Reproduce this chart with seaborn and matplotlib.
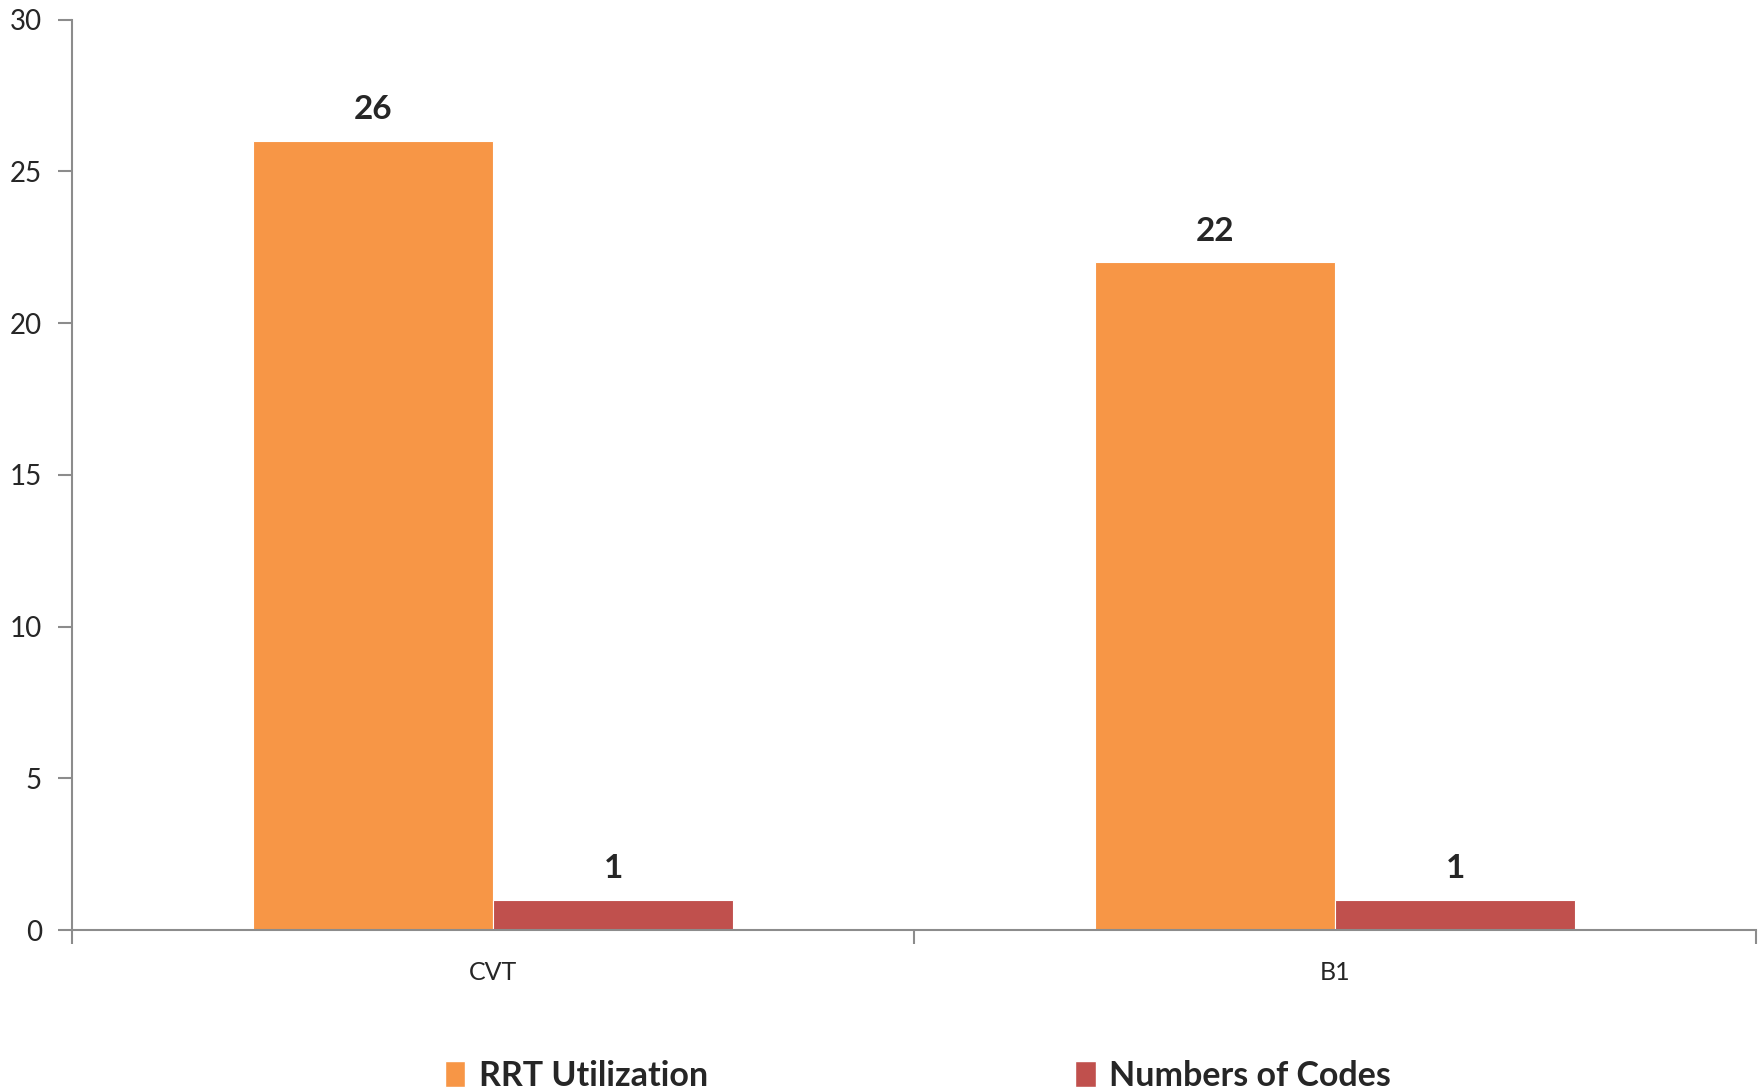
import pandas as pd
import seaborn as sns
import matplotlib.pyplot as plt
from matplotlib.patches import Patch

# data
categories = ['CVT', 'B1']
series = ['RRT Utilization', 'Numbers of Codes']
rrt_utilization = [26, 22]
numbers_of_codes = [1, 1]
colors = ['#F79646', '#C0504D']

df = pd.DataFrame({
    'Category': categories * 2,
    'Series': [series[0]] * 2 + [series[1]] * 2,
    'Value': rrt_utilization + numbers_of_codes,
})

sns.set_style('white')
plt.rcParams['font.family'] = ['Lato', 'DejaVu Sans']

fig, ax = plt.subplots(figsize=(17.65, 10.89), dpi=100)
fig.subplots_adjust(left=0.041, right=0.995, top=0.982, bottom=0.146)

sns.barplot(data=df, x='Category', y='Value', hue='Series', palette=colors,
            width=0.57, gap=0, saturation=1, ax=ax, legend=False,
            edgecolor='white', linewidth=0.8)

for cont in ax.containers:
    ax.bar_label(cont, fmt='%d', padding=12, fontsize=24, fontweight='bold')

ax.set_xlim(-0.5, 1.5)
ax.set_ylim(0, 30)
ax.set_yticks(range(0, 31, 5))
ax.set_xlabel('')
ax.set_ylabel('')

grey = '#8C8C8C'
for side in ['top', 'right']:
    ax.spines[side].set_visible(False)
for side in ['left', 'bottom']:
    ax.spines[side].set_color(grey)
    ax.spines[side].set_linewidth(1.5)

ax.tick_params(axis='y', which='major', length=10, width=1.5, color=grey,
               labelsize=20, pad=12, left=True)
ax.tick_params(axis='x', which='major', length=0, labelsize=18, pad=22)
ax.set_xticks([-0.5, 0.5, 1.5], minor=True)
ax.tick_params(axis='x', which='minor', length=10, width=1.5, color=grey,
               bottom=True)

handles = [Patch(facecolor=c, label=s) for c, s in zip(colors, series)]
fig.legend(handles=handles, loc='lower center', ncol=2, frameon=False,
           bbox_to_anchor=(0.52, -0.031), prop={'size': 24.5, 'weight': 'bold'},
           handlelength=0.6, handleheight=0.8, handletextpad=0.4,
           columnspacing=10.8)

fig.savefig('out.png', dpi=100)
